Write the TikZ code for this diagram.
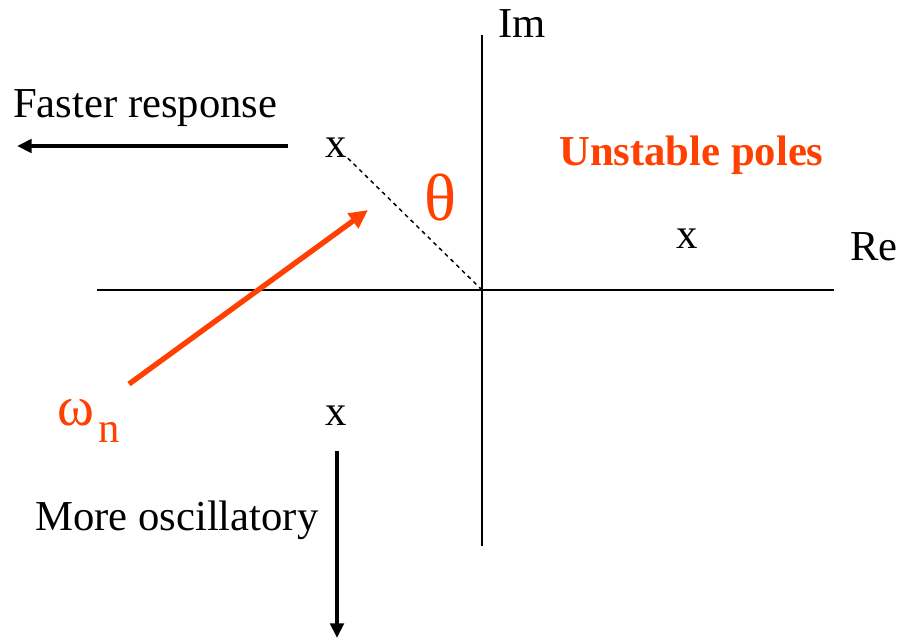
\documentclass[tikz,border=0pt]{standalone}
\usepackage{fontspec}
\setmainfont{Liberation Serif}
\usetikzlibrary{arrows.meta}
\definecolor{orangered}{RGB}{255,64,0}

\begin{document}
\begin{tikzpicture}[x=0.75pt,y=0.75pt,yscale=-1,xscale=1,
  lbl/.style={inner sep=0pt,font=\fontsize{32}{36}\selectfont},
  pole/.style={lbl,anchor=base},
  bigarrow/.style={line width=3pt,-{Triangle[length=11pt,width=10pt]}}]
\useasboundingbox (0,0) rectangle (913,640);

%Axes
\coordinate (O) at (482,290);
\coordinate (imtop) at (482,35);
\coordinate (imbot) at (482,546);
\coordinate (releft) at (97,290);
\coordinate (reright) at (834,290);
\draw [line width=1.5] (releft) -- (reright);
\draw [line width=1.5] (imbot) -- (imtop);

% Text Node
\node (im) [lbl,anchor=base west] at (498,37) {Im};
% Text Node
\node (re) [lbl,anchor=base west] at (850,260) {Re};

%Poles
\node (p1) [pole] at (336,157) {x};
\node (p2) [pole] at (336,425) {x};
\node (p3) [pole] at (687,248) {x};

%Dashed Line
\draw [dashed,line width=1.1] (O) -- (p1.south east);

% Text Node
\node (theta) [lbl,text=orangered,font=\fontsize{50}{54}\selectfont] at (440,198) {θ};
% Text Node
\node (unst) [lbl,anchor=base west,text=orangered,font=\fontsize{32}{36}\selectfont\bfseries] at (559,165) {Unstable poles};

%Omega n arrow
\node (wn) [lbl,anchor=base west,text=orangered,font=\fontsize{42}{46}\selectfont] at (57,425) {ω};
\node (wnsub) [lbl,anchor=base west,text=orangered] at (98,442) {n};
\coordinate (wtail) at (129,384);
\coordinate (whead) at (368,210);
\draw [orangered,line width=4pt,-{Triangle[length=14pt,width=13pt]}] (wtail) -- (whead);

% Faster response
\node (fast) [lbl,anchor=base west] at (13,117) {Faster response};
\coordinate (ftail) at (288,146);
\coordinate (fhead) at (17,146);
\draw [bigarrow] (ftail) -- (fhead);

% More oscillatory
\node (osc) [lbl,anchor=base west] at (35,530) {More oscillatory};
\coordinate (otail) at (337,451);
\coordinate (ohead) at (337,638);
\draw [bigarrow] (otail) -- (ohead);

\end{tikzpicture}
\end{document}
